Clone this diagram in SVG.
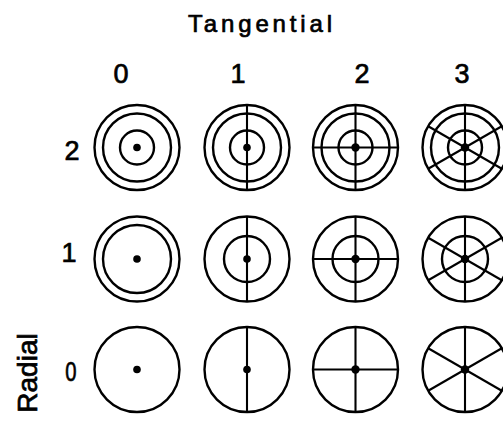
<svg xmlns="http://www.w3.org/2000/svg" width="503" height="425" viewBox="0 0 503 425">
<style>
.r{fill:none;stroke:#000;stroke-width:2.4}
.s{stroke:#000;stroke-width:2.1}
.d{fill:#000}
.t{font-family:"Liberation Sans",Arial,sans-serif;fill:#000;stroke:#000;stroke-width:0.7}
</style>
<defs>
<circle id="outer" class="r" r="42.5"/>
<circle id="mid" class="r" r="34"/>
<circle id="in2" class="r" r="17"/>
<circle id="in1" class="r" r="23"/>
<line id="v" class="s" x1="0" y1="-42.5" x2="0" y2="42.5"/>
<line id="h" class="s" x1="-42.5" y1="0" x2="42.5" y2="0"/>
<line id="a" class="s" x1="-36.8" y1="-21.25" x2="36.8" y2="21.25"/>
<line id="b" class="s" x1="-36.8" y1="21.25" x2="36.8" y2="-21.25"/>
</defs>
<rect width="503" height="425" fill="#fff"/>
<g id="labels" class="t">
<text x="188" y="32" font-size="24" textLength="144" lengthAdjust="spacing">Tangential</text>
<g font-size="27" text-anchor="middle">
<text x="121" y="83">0</text>
<text x="238" y="83">1</text>
<text x="362" y="83">2</text>
<text x="462" y="83">3</text>
<text x="72" y="160">2</text>
<text x="69" y="262">1</text>
<text x="71" y="381" transform="translate(71 0) scale(0.75 1) translate(-71 0)">0</text>
</g>
<text transform="translate(37 373) rotate(-90)" font-size="28" text-anchor="middle">Radial</text>
</g>
<g id="connectors"></g>
<!-- Row 2 -->
<g id="n-r2-t0" transform="translate(137 147.5)"><use href="#outer"/><use href="#mid"/><use href="#in2"/><circle class="d" r="3.8"/></g>
<g id="n-r2-t1" transform="translate(247 147.5)"><use href="#outer"/><use href="#mid"/><use href="#in2"/><use href="#v"/><circle class="d" r="3.8"/></g>
<g id="n-r2-t2" transform="translate(355.5 147.5)"><use href="#outer"/><use href="#mid"/><use href="#in2"/><use href="#v"/><use href="#h"/><circle class="d" r="4.2"/></g>
<g id="n-r2-t3" transform="translate(465 147.5)"><use href="#outer"/><use href="#mid"/><use href="#in2"/><use href="#v"/><use href="#a"/><use href="#b"/><circle class="d" r="4.2"/></g>
<!-- Row 1 -->
<g id="n-r1-t0" transform="translate(137 259)"><use href="#outer"/><use href="#mid"/><circle class="d" r="3.8"/></g>
<g id="n-r1-t1" transform="translate(247 259)"><use href="#outer"/><use href="#in1"/><use href="#v"/><circle class="d" r="3.8"/></g>
<g id="n-r1-t2" transform="translate(355.5 259)"><use href="#outer"/><use href="#in1"/><use href="#v"/><use href="#h"/><circle class="d" r="4.2"/></g>
<g id="n-r1-t3" transform="translate(465 259)"><use href="#outer"/><use href="#in1"/><use href="#v"/><use href="#a"/><use href="#b"/><circle class="d" r="4.2"/></g>
<!-- Row 0 -->
<g id="n-r0-t0" transform="translate(137 369.5)"><use href="#outer"/><circle class="d" r="3.8"/></g>
<g id="n-r0-t1" transform="translate(247 369.5)"><use href="#outer"/><use href="#v"/><circle class="d" r="3.8"/></g>
<g id="n-r0-t2" transform="translate(355.5 369.5)"><use href="#outer"/><use href="#v"/><use href="#h"/><circle class="d" r="4.2"/></g>
<g id="n-r0-t3" transform="translate(465 369.5)"><use href="#outer"/><use href="#v"/><use href="#a"/><use href="#b"/><circle class="d" r="4.2"/></g>
</svg>
